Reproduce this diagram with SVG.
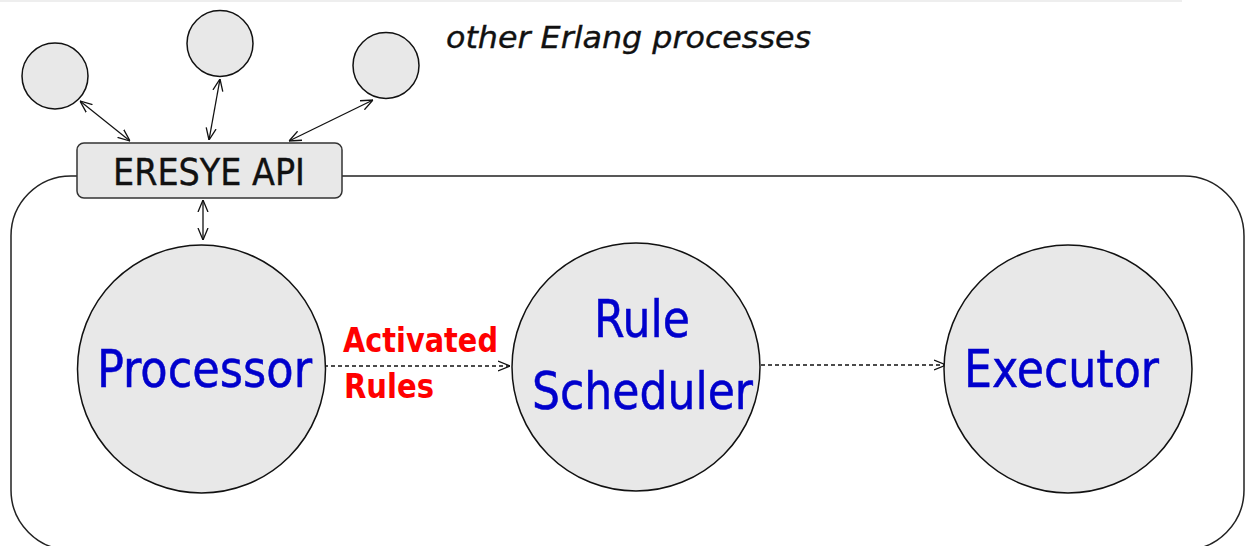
<svg xmlns="http://www.w3.org/2000/svg" width="1246" height="546" viewBox="0 0 1246 546">
  <style>
    .proc { fill: #e8e8e8; stroke: #111; stroke-width: 1.5; }
    .api  { fill: #e8e8e8; stroke: #333; stroke-width: 1.5; }
    .frame { fill: none; stroke: #222; stroke-width: 1.5; }
    .link { fill: none; stroke: #111; stroke-width: 1.3; }
    .dash { fill: none; stroke: #111; stroke-width: 1.3; stroke-dasharray: 4 3; }
    .name { font-family: "DejaVu Sans Condensed", "DejaVu Sans", sans-serif; font-stretch: condensed; fill: #0000cc; stroke: #0000cc; stroke-width: 0.5; font-size: 52px; }
    .label { font-family: "DejaVu Sans Condensed", "DejaVu Sans", sans-serif; font-stretch: condensed; fill: #111; stroke: #111; stroke-width: 0.35; }
    .hot { font-family: "DejaVu Sans Condensed", "DejaVu Sans", sans-serif; font-stretch: condensed; font-weight: bold; fill: #ff0000; font-size: 33px; }
  </style>
  <defs>
    <marker id="vhead" viewBox="0 0 12 12" refX="12" refY="6" markerWidth="12" markerHeight="12" markerUnits="userSpaceOnUse" orient="auto-start-reverse">
      <path d="M0,1 L12,6 L0,11" fill="none" stroke="#111" stroke-width="1.3"/>
    </marker>
  </defs>

  <!-- thin rule along the top edge -->
  <rect x="0" y="0" width="1182" height="2" fill="#eeeeee"/>

  <!-- engine boundary -->
  <rect class="frame" x="11" y="176" width="1233" height="374" rx="60" ry="60"/>

  <text class="label" x="446" y="48" font-size="31" font-style="italic" textLength="365" lengthAdjust="spacingAndGlyphs">other Erlang processes</text>

  <g id="ext1"><circle class="proc" cx="55" cy="76" r="33"/></g>
  <g id="ext2"><circle class="proc" cx="220" cy="43.5" r="33"/></g>
  <g id="ext3"><circle class="proc" cx="386" cy="65.5" r="33"/></g>

  <g id="connectors">
    <line class="link" x1="80" y1="101" x2="130" y2="141" marker-start="url(#vhead)" marker-end="url(#vhead)"/>
    <line class="link" x1="220" y1="79" x2="209" y2="140" marker-start="url(#vhead)" marker-end="url(#vhead)"/>
    <line class="link" x1="373" y1="100" x2="289" y2="141" marker-start="url(#vhead)" marker-end="url(#vhead)"/>
    <line class="link" x1="203" y1="200" x2="203" y2="240" marker-start="url(#vhead)" marker-end="url(#vhead)"/>
    <line class="dash" x1="324" y1="366" x2="510" y2="366" marker-end="url(#vhead)"/>
    <line class="dash" x1="761" y1="365" x2="946" y2="365" marker-end="url(#vhead)"/>
  </g>

  <g id="api">
    <rect class="api" x="77" y="143" width="265" height="55" rx="7" ry="7"/>
    <text class="label" x="113" y="185" font-size="38" textLength="192" lengthAdjust="spacingAndGlyphs">ERESYE API</text>
  </g>

  <g id="processor">
    <circle class="proc" cx="201.5" cy="369" r="124"/>
    <text class="name" x="97" y="387" textLength="215" lengthAdjust="spacingAndGlyphs">Processor</text>
  </g>

  <g id="activated-rules">
    <text class="hot" x="343" y="352" textLength="155" lengthAdjust="spacingAndGlyphs">Activated</text>
    <text class="hot" x="344" y="398" textLength="90" lengthAdjust="spacingAndGlyphs">Rules</text>
  </g>

  <g id="scheduler">
    <circle class="proc" cx="636" cy="367" r="124"/>
    <text class="name" x="594" y="337" textLength="96" lengthAdjust="spacingAndGlyphs">Rule</text>
    <text class="name" x="532" y="409" textLength="221" lengthAdjust="spacingAndGlyphs">Scheduler</text>
  </g>

  <g id="executor">
    <circle class="proc" cx="1068" cy="369" r="124"/>
    <text class="name" x="964" y="387" textLength="195" lengthAdjust="spacingAndGlyphs">Executor</text>
  </g>
</svg>
